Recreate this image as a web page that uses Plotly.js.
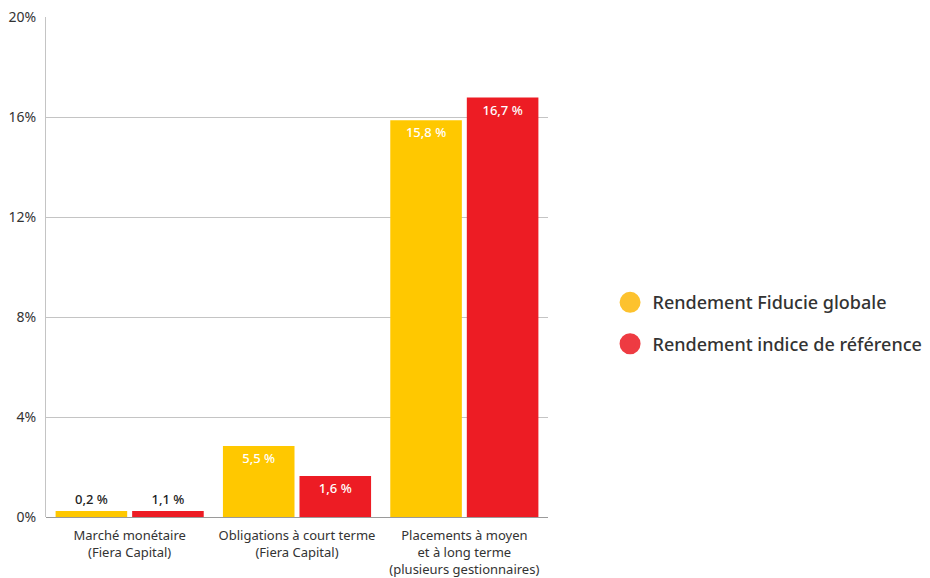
<!DOCTYPE html>
<html>
<head>
<meta charset="utf-8">
<script src="https://cdn.plot.ly/plotly-3.0.1.min.js"></script>
<style>html,body{margin:0;padding:0;background:#fff;}#chart{width:930px;height:578px;}</style>
</head>
<body>
<div id="chart"></div>
<script>
// Categories (x-axis tick labels)
var categories = [
  "Marché monétaire<br>(Fiera Capital)",
  "Obligations à court terme<br>(Fiera Capital)",
  "Placements à moyen<br>et à long terme<br>(plusieurs gestionnaires)"
];
// Series names
var seriesNames = ["Rendement Fiducie globale", "Rendement indice de référence"];
// Bar heights as drawn in the picture (%)
var fiducieValues = [0.24, 2.84, 15.87];
var indiceValues = [0.24, 1.64, 16.78];
// Printed value labels
var fiducieLabels = ["0,2 %", "5,5 %", "15,8 %"];
var indiceLabels = ["1,1 %", "1,6 %", "16,7 %"];
// Y-axis ticks
var yTicks = [0, 4, 8, 12, 16, 20];
var yTickLabels = ["0%", "4%", "8%", "12%", "16%", "20%"];

var FONT = "Noto Sans, sans-serif";
var yellow = "#FFC800", red = "#ED1C24";
var legendYellow = "#FDC22E", legendRed = "#EE3B42";

function barTrace(vals, labels, color, name) {
  return {
    type: "bar", x: categories, y: vals, name: name,
    marker: {color: color, line: {width: 0}},
    text: labels, texttemplate: "%{text}",
    textposition: ["outside", "inside", "inside"],
    insidetextanchor: "end",
    constraintext: "none",
    textfont: {family: FONT, size: 13, weight: 500, color: ["#222222", "#ffffff", "#ffffff"]},
    cliponaxis: false,
    showlegend: false, hoverinfo: "skip"
  };
}

var data = [
  barTrace(fiducieValues, fiducieLabels, yellow, seriesNames[0]),
  barTrace(indiceValues, indiceLabels, red, seriesNames[1]),
  {type: "scatter", mode: "markers", x: [null], y: [null], name: seriesNames[0], legendgroup: "a",
   marker: {symbol: "circle", size: 16, color: legendYellow, line: {width: 5, color: legendYellow}}},
  {type: "scatter", mode: "markers", x: [null], y: [null], name: seriesNames[1], legendgroup: "b",
   marker: {symbol: "circle", size: 16, color: legendRed, line: {width: 5, color: legendRed}}}
];

var layout = {
  width: 930, height: 578,
  margin: {l: 46, r: 382, t: 17, b: 61, pad: 0},
  paper_bgcolor: "#fff", plot_bgcolor: "#fff",
  font: {family: FONT, color: "#333"},
  barmode: "group", bargap: 0.085, bargroupgap: 0.065,
  xaxis: {
    type: "category", showgrid: false, zeroline: false,
    showline: false, ticks: "", tickfont: {family: FONT, size: 13, color: "#333"},
    ticklabelstandoff: 9, fixedrange: true
  },
  yaxis: {
    range: [0, 20], tickmode: "array", tickvals: yTicks, ticktext: yTickLabels,
    showgrid: true, gridcolor: "#c4c4c4", gridwidth: 1,
    zeroline: true, zerolinecolor: "#9a9a9a", zerolinewidth: 1,
    showline: true, linecolor: "#c4c4c4", linewidth: 1,
    ticks: "", tickfont: {family: FONT, size: 14, color: "#333"},
    ticklabelstandoff: 6, fixedrange: true
  },
  legend: {
    xref: "container", yref: "container",
    x: 0.6533, xanchor: "left", y: 0.441, yanchor: "middle",
    orientation: "v", tracegroupgap: 15, itemwidth: 35,
    font: {family: FONT, size: 18, color: "#333", weight: 500},
    bgcolor: "rgba(0,0,0,0)", borderwidth: 0, itemclick: false, itemdoubleclick: false
  },
  showlegend: true
};

Plotly.newPlot("chart", data, layout, {displayModeBar: false, staticPlot: true});
</script>
</body>
</html>
